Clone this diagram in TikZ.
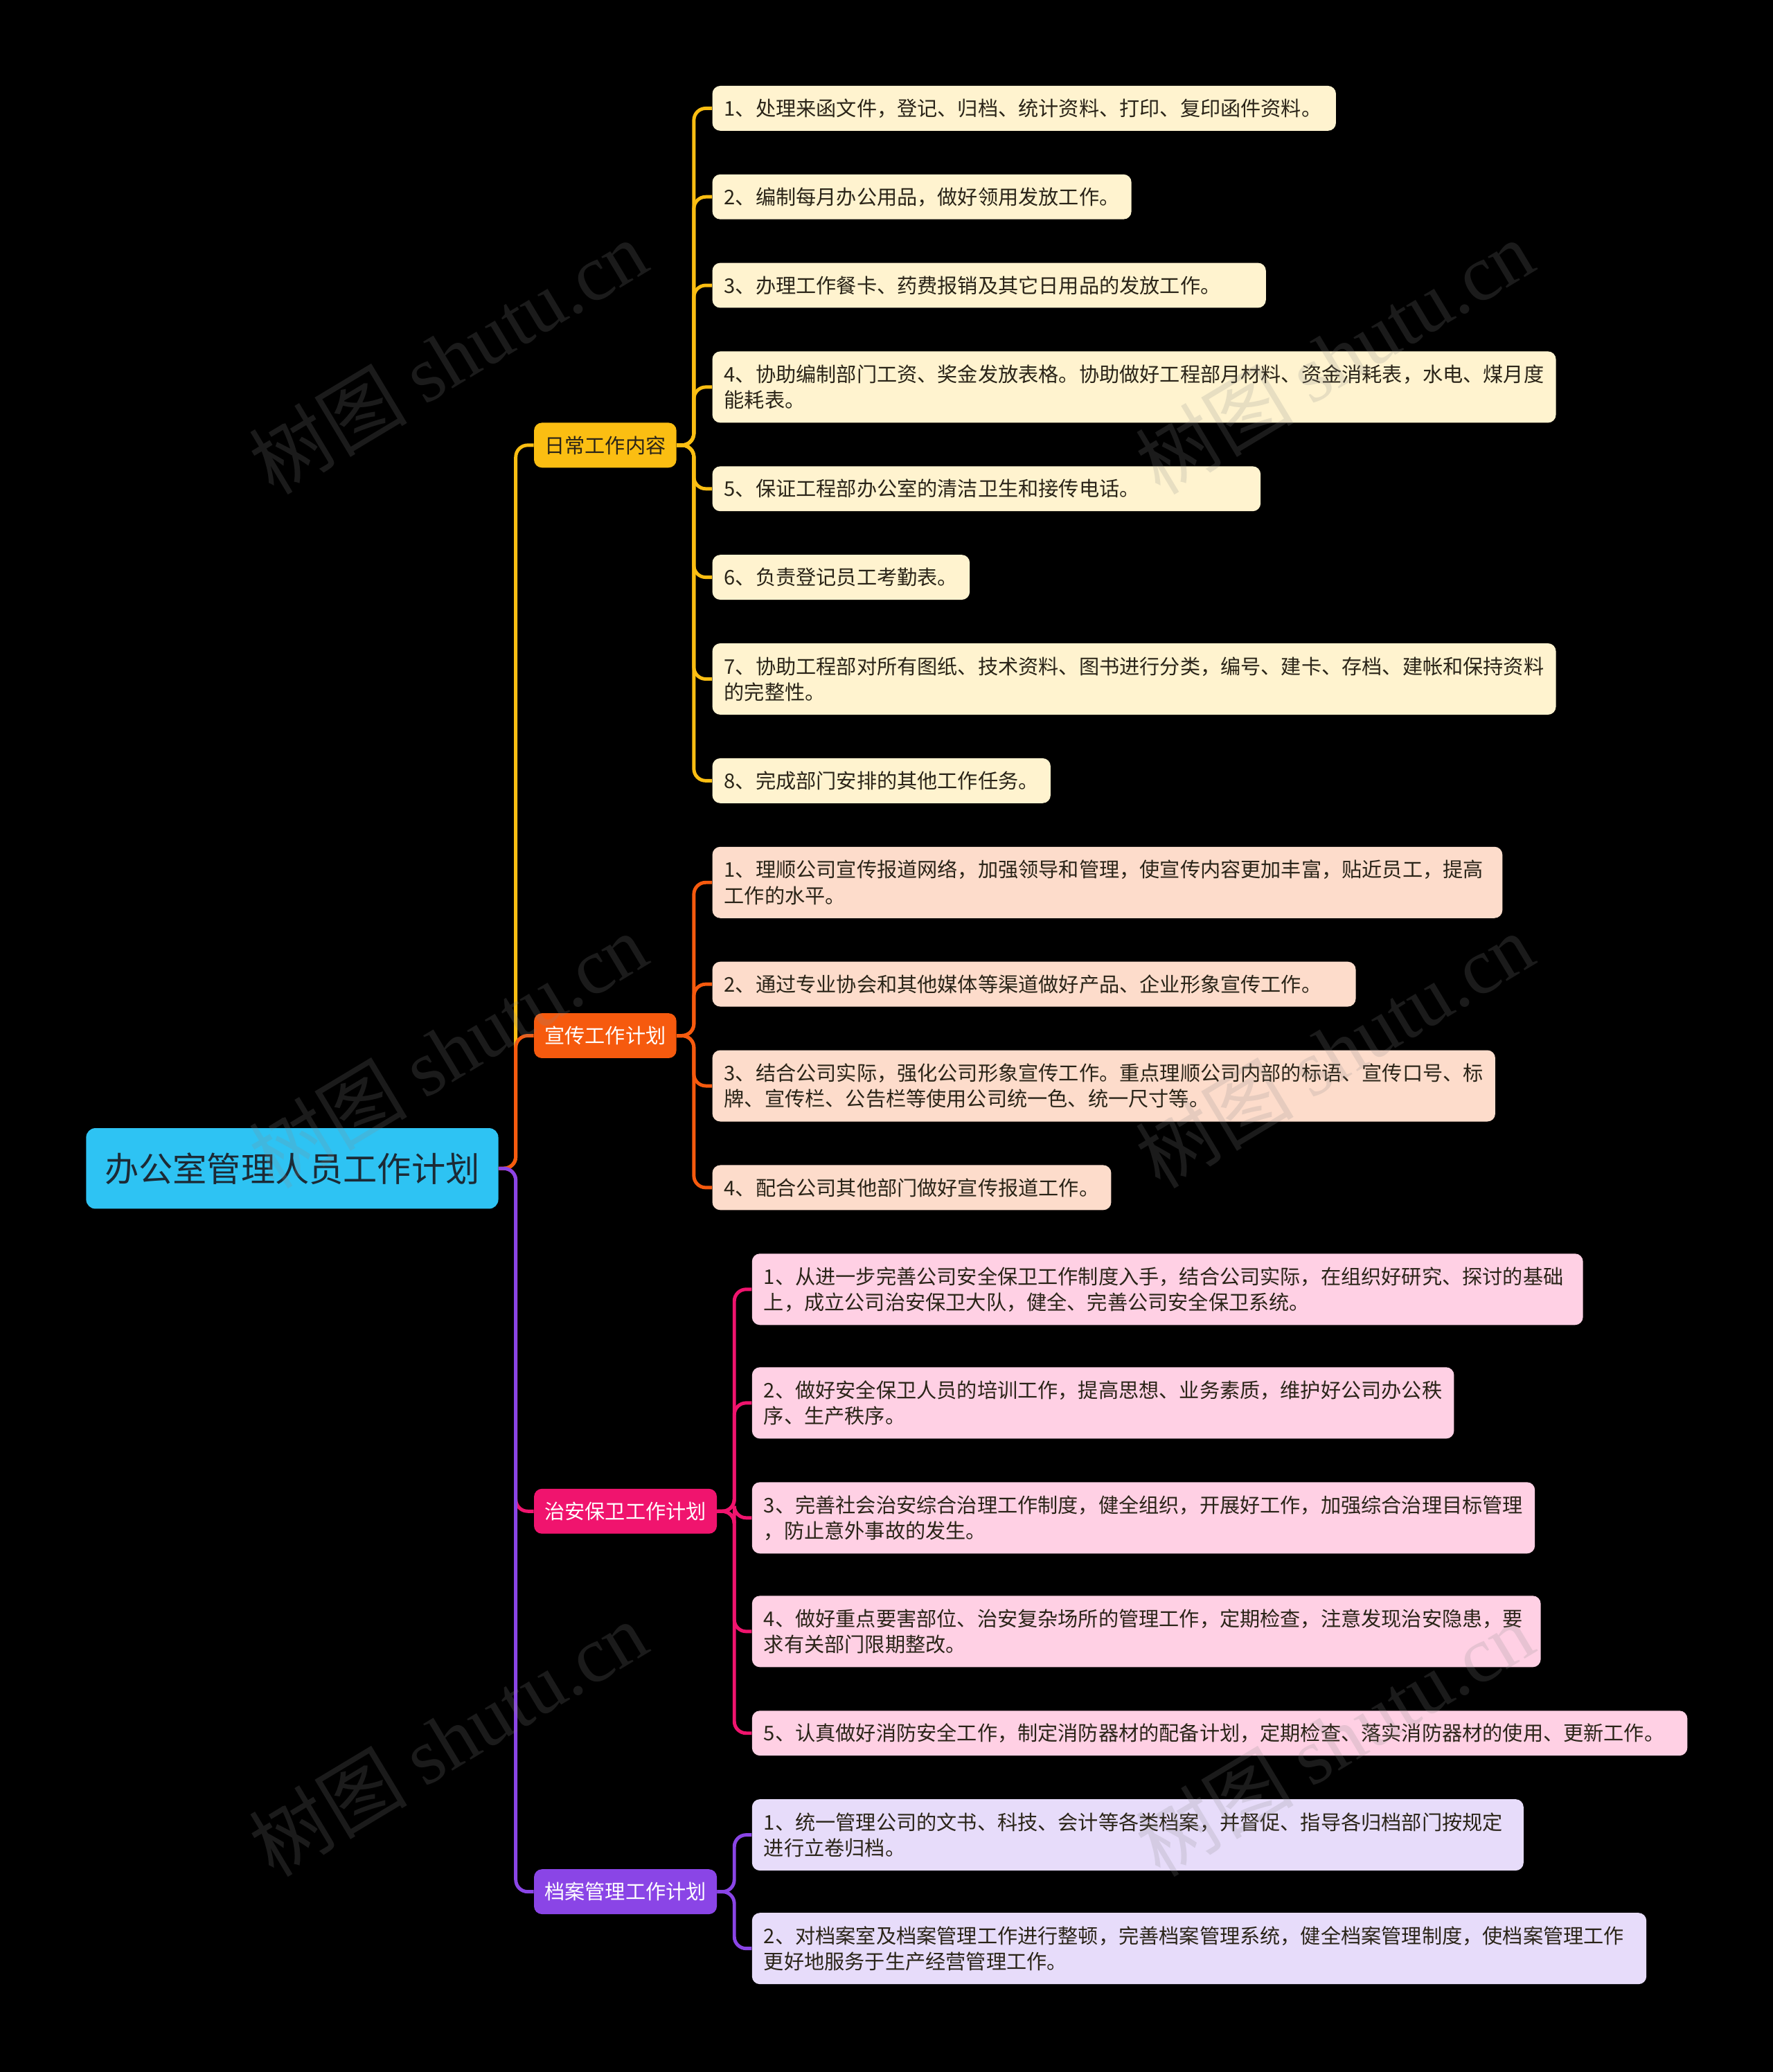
\documentclass[tikz,border=0pt]{standalone}
\usepackage{fontspec}
\setmainfont{Noto Sans CJK SC}
\newfontfamily\wmfont{Liberation Serif}
\definecolor{bg}{HTML}{000000}
\definecolor{rootfill}{HTML}{2EC3F3}
\definecolor{roottext}{HTML}{1C2A35}
\definecolor{cyel}{HTML}{FBBE12}
\definecolor{cora}{HTML}{F65A0E}
\definecolor{cpink}{HTML}{F0146E}
\definecolor{cpurp}{HTML}{8A45E6}
\definecolor{fyel}{HTML}{FFF3CF}
\definecolor{fora}{HTML}{FDDCCB}
\definecolor{fpink}{HTML}{FFD0E4}
\definecolor{fpurp}{HTML}{E7DCFA}
\definecolor{leaftext}{HTML}{2A2418}
\definecolor{wmgray}{HTML}{8A8A8A}
\tikzset{
  rootbox/.style={anchor=west, rounded corners=7pt, fill=rootfill, text=roottext,
    minimum width=312pt, minimum height=61pt, inner sep=0pt,
    font=\fontsize{25.8}{30}\selectfont},
  topic/.style={anchor=west, rounded corners=6pt, inner xsep=8pt, inner ysep=0pt,
    minimum height=34pt, font=\fontsize{15.3}{19.5}\selectfont},
  leaf/.style={anchor=west, rounded corners=6pt, inner xsep=9pt, inner ysep=0pt,
    minimum height=34pt, align=left, text=leaftext,
    font=\fontsize{15.3}{19.5}\selectfont},
  twoline/.style={minimum height=54pt},
  tw/.style={text width=#1 pt},
  conn/.style={line width=2.6pt, rounded corners=9pt},
  wm/.style={text=wmgray, opacity=0.2, rotate=31, font=\fontsize{60}{60}\selectfont, inner sep=0pt}
}
\begin{document}
\begin{tikzpicture}[x=1pt,y=-1pt]
\fill[bg] (0,0) rectangle (1342,1568.5);
\useasboundingbox (0,0) rectangle (1342,1568.5);

% root and topics
\node[rootbox] (root) at (65,884.5) {办公室管理人员工作计划};
\node[topic, fill=cyel, text=leaftext] (ta) at (404,337) {日常工作内容};
\node[topic, fill=cora, text=white] (tb) at (404,784) {宣传工作计划};
\node[topic, fill=cpink, text=white] (tc) at (404,1144) {治安保卫工作计划};
\node[topic, fill=cpurp, text=white] (td) at (404,1432) {档案管理工作计划};

% leaves: daily work
\node[leaf, fill=fyel, tw=454] (a1) at (539,82) {1、处理来函文件，登记、归档、统计资料、打印、复印函件资料。};
\node[leaf, fill=fyel] (a2) at (539,149) {2、编制每月办公用品，做好领用发放工作。};
\node[leaf, fill=fyel, tw=401] (a3) at (539,216) {3、办理工作餐卡、药费报销及其它日用品的发放工作。};
\node[leaf, fill=fyel, twoline] (a4) at (539,293) {4、协助编制部门工资、奖金发放表格。协助做好工程部月材料、资金消耗表，水电、煤月度\\能耗表。};
\node[leaf, fill=fyel, tw=397] (a5) at (539,370) {5、保证工程部办公室的清洁卫生和接传电话。};
\node[leaf, fill=fyel] (a6) at (539,437) {6、负责登记员工考勤表。};
\node[leaf, fill=fyel, twoline] (a7) at (539,514) {7、协助工程部对所有图纸、技术资料、图书进行分类，编号、建卡、存档、建帐和保持资料\\的完整性。};
\node[leaf, fill=fyel] (a8) at (539,591) {8、完成部门安排的其他工作任务。};

% leaves: publicity
\node[leaf, fill=fora, twoline, tw=580] (b1) at (539,668) {1、理顺公司宣传报道网络，加强领导和管理，使宣传内容更加丰富，贴近员工，提高\\工作的水平。};
\node[leaf, fill=fora, tw=469] (b2) at (539,745) {2、通过专业协会和其他媒体等渠道做好产品、企业形象宣传工作。};
\node[leaf, fill=fora, twoline] (b3) at (539,822) {3、结合公司实际，强化公司形象宣传工作。重点理顺公司内部的标语、宣传口号、标\\牌、宣传栏、公告栏等使用公司统一色、统一尺寸等。};
\node[leaf, fill=fora] (b4) at (539,899) {4、配合公司其他部门做好宣传报道工作。};

% leaves: security
\node[leaf, fill=fpink, twoline, tw=611] (c1) at (569,976) {1、从进一步完善公司安全保卫工作制度入手，结合公司实际，在组织好研究、探讨的基础\\上，成立公司治安保卫大队，健全、完善公司安全保卫系统。};
\node[leaf, fill=fpink, twoline] (c2) at (569,1062) {2、做好安全保卫人员的培训工作，提高思想、业务素质，维护好公司办公秩\\序、生产秩序。};
\node[leaf, fill=fpink, twoline] (c3) at (569,1149) {3、完善社会治安综合治理工作制度，健全组织，开展好工作，加强综合治理目标管理\\，防止意外事故的发生。};
\node[leaf, fill=fpink, twoline, tw=579] (c4) at (569,1235) {4、做好重点要害部位、治安复杂场所的管理工作，定期检查，注意发现治安隐患，要\\求有关部门限期整改。};
\node[leaf, fill=fpink, tw=690] (c5) at (569,1312) {5、认真做好消防安全工作，制定消防器材的配备计划，定期检查、落实消防器材的使用、更新工作。};

% leaves: archives
\node[leaf, fill=fpurp, twoline, tw=566] (d1) at (569,1389) {1、统一管理公司的文书、科技、会计等各类档案，并督促、指导各归档部门按规定\\进行立卷归档。};
\node[leaf, fill=fpurp, twoline, tw=659] (d2) at (569,1475) {2、对档案室及档案管理工作进行整顿，完善档案管理系统，健全档案管理制度，使档案管理工作\\更好地服务于生产经营管理工作。};

% connectors root -> topics
\draw[conn, cyel] (root.east) -- ++(13,0) |- (ta.west);
\draw[conn, cora] (root.east) -- ++(13,0) |- (tb.west);
\draw[conn, cpink] (root.east) -- ++(13,0) |- (tc.west);
\draw[conn, cpurp] (root.east) -- ++(13,0) |- (td.west);

% connectors topics -> leaves
\foreach \n in {a1,a2,a3,a4,a5,a6,a7,a8}
  \draw[conn, cyel] (ta.east) -- ++(13,0) |- (\n.west);
\foreach \n in {b1,b2,b3,b4}
  \draw[conn, cora] (tb.east) -- ++(13,0) |- (\n.west);
\foreach \n in {c1,c2,c3,c4,c5}
  \draw[conn, cpink] (tc.east) -- ++(13,0) |- (\n.west);
\foreach \n in {d1,d2}
  \draw[conn, cpurp] (td.east) -- ++(13,0) |- (\n.west);

% watermarks
\node[wm] (wm1) at (339,270) {树图 {\wmfont shutu.cn}};
\node[wm] (wm2) at (1010,270) {树图 {\wmfont shutu.cn}};
\node[wm] (wm3) at (339,795) {树图 {\wmfont shutu.cn}};
\node[wm] (wm4) at (1010,795) {树图 {\wmfont shutu.cn}};
\node[wm] (wm5) at (339,1316) {树图 {\wmfont shutu.cn}};
\node[wm] (wm6) at (1010,1316) {树图 {\wmfont shutu.cn}};
\end{tikzpicture}
\end{document}
